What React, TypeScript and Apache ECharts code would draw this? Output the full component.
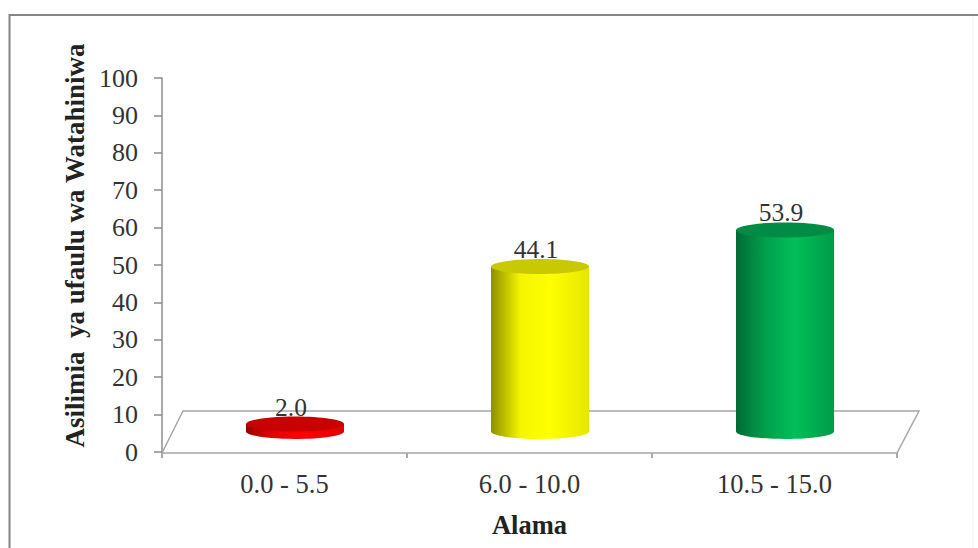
import React, { useEffect, useRef } from "react";
import * as echarts from "echarts";

const categories = ["0.0 - 5.5", "6.0 - 10.0", "10.5 - 15.0"];
const percentages = [2.0, 44.1, 53.9];
const yTickMax = 100;
const yTickStep = 10;
const yTitle = "Asilimia  ya ufaulu wa Watahiniwa";
const xTitle = "Alama";

const sideStops = [
  ["#9c0000", "#e80000", "#ff0000", "#e00000"],
  ["#8f8f00", "#f5f500", "#ffff00", "#e6e600"],
  ["#006b35", "#00a04c", "#00c058", "#009a48"],
];
const capColors = ["#c80000", "#c9c900", "#008c44"];

const FONT = '"Liberation Serif", "Times New Roman", serif';
const DEPTH_X = 21;
const DEPTH_Y = 42;
const HALF_W = 49;
const RY = 7.5;

export default function App() {
  const ref = useRef<HTMLDivElement>(null);

  useEffect(() => {
    const chart = echarts.init(ref.current!, null, { renderer: "svg" });

    const renderCylinder = (params: any, api: any) => {
      const i = api.value(0);
      const val = api.value(1);
      const top = api.coord([i, val]);
      const base = api.coord([i, 0]);
      const cx = top[0] + DEPTH_X / 2;
      const topY = top[1] - DEPTH_Y / 2 + 0.5;
      const baseY = base[1] - DEPTH_Y / 2 + 0.5;
      const s = sideStops[i];
      const grad = new echarts.graphic.LinearGradient(0, 0, 1, 0, [
        { offset: 0, color: s[0] },
        { offset: 0.3, color: s[1] },
        { offset: 0.6, color: s[2] },
        { offset: 1, color: s[3] },
      ]);
      return {
        type: "group",
        children: [
          {
            type: "ellipse",
            shape: { cx, cy: baseY, rx: HALF_W, ry: RY },
            style: { fill: grad },
          },
          {
            type: "rect",
            shape: { x: cx - HALF_W, y: topY, width: HALF_W * 2, height: baseY - topY },
            style: { fill: grad },
          },
          {
            type: "ellipse",
            shape: { cx, cy: topY, rx: HALF_W, ry: RY },
            style: { fill: capColors[i] },
          },
          {
            type: "text",
            style: {
              text: val.toFixed(1),
              x: cx - 4,
              y: topY - 17,
              align: "center",
              verticalAlign: "middle",
              font: `25.5px ${FONT}`,
              fill: "#333333",
            },
          },
        ],
      };
    };

    const renderFloor = (params: any) => {
      const g = params.coordSys;
      const b = g.y + g.height + 1;
      return {
        type: "polygon",
        shape: {
          points: [
            [g.x, b],
            [g.x + DEPTH_X, b - DEPTH_Y],
            [g.x + g.width + DEPTH_X + 1, b - DEPTH_Y],
            [g.x + g.width, b],
          ],
        },
        style: { fill: "#ffffff", stroke: "#a6a6a6", lineWidth: 1.5 },
      };
    };

    chart.setOption({
      animation: false,
      backgroundColor: "#ffffff",
      grid: { left: 162, top: 78, width: 735, height: 374, containLabel: false, outerBoundsMode: "none" },
      graphic: [
        {
          type: "line",
          shape: { x1: 973, y1: 16, x2: 973, y2: 548 },
          style: { stroke: "#f0f0f0", lineWidth: 1 },
          silent: true,
        },
        {
          type: "polyline",
          shape: { points: [[9.5, 548], [9.5, 15], [978, 15]] },
          style: { fill: "none", stroke: "#858585", lineWidth: 2 },
          silent: true,
        },
      ],
      xAxis: {
        type: "category",
        data: categories,
        name: xTitle,
        nameLocation: "middle",
        nameGap: 59,
        nameTextStyle: { fontFamily: FONT, fontSize: 26.5, fontWeight: "bold", color: "#222222" },
        axisLine: { lineStyle: { color: "#8c8c8c", width: 1.5 } },
        axisTick: { show: true, length: 6, lineStyle: { color: "#8c8c8c", width: 1.5 } },
        axisLabel: { fontFamily: FONT, fontSize: 26.5, color: "#333333", margin: 18 },
        splitLine: { show: false },
      },
      yAxis: {
        type: "value",
        min: 0,
        max: yTickMax,
        interval: yTickStep,
        name: yTitle,
        nameLocation: "middle",
        nameRotate: 90,
        nameGap: 73,
        nameTextStyle: {
          fontFamily: FONT,
          fontSize: 27,
          fontWeight: "bold",
          color: "#222222",
          padding: [0, 0, 0, 39],
        },
        axisLine: { show: true, lineStyle: { color: "#8c8c8c", width: 1.5 } },
        axisTick: { show: true, length: 8, lineStyle: { color: "#8c8c8c", width: 1.5 } },
        axisLabel: { fontFamily: FONT, fontSize: 26, color: "#333333", margin: 24 },
        splitLine: { show: false },
      },
      series: [
        {
          type: "custom",
          coordinateSystem: "cartesian2d",
          data: [[0, 0]],
          renderItem: renderFloor,
          silent: true,
          z: 1,
          clip: false,
        },
        {
          type: "custom",
          coordinateSystem: "cartesian2d",
          data: percentages.map((v, i) => [i, v]),
          encode: { x: 0, y: 1 },
          renderItem: renderCylinder,
          silent: true,
          z: 3,
          clip: false,
        },
      ],
    });

    return () => chart.dispose();
  }, []);

  return (
    <div
      ref={ref}
      style={{ position: "absolute", left: 0, top: 0, width: 978, height: 548 }}
    />
  );
}
